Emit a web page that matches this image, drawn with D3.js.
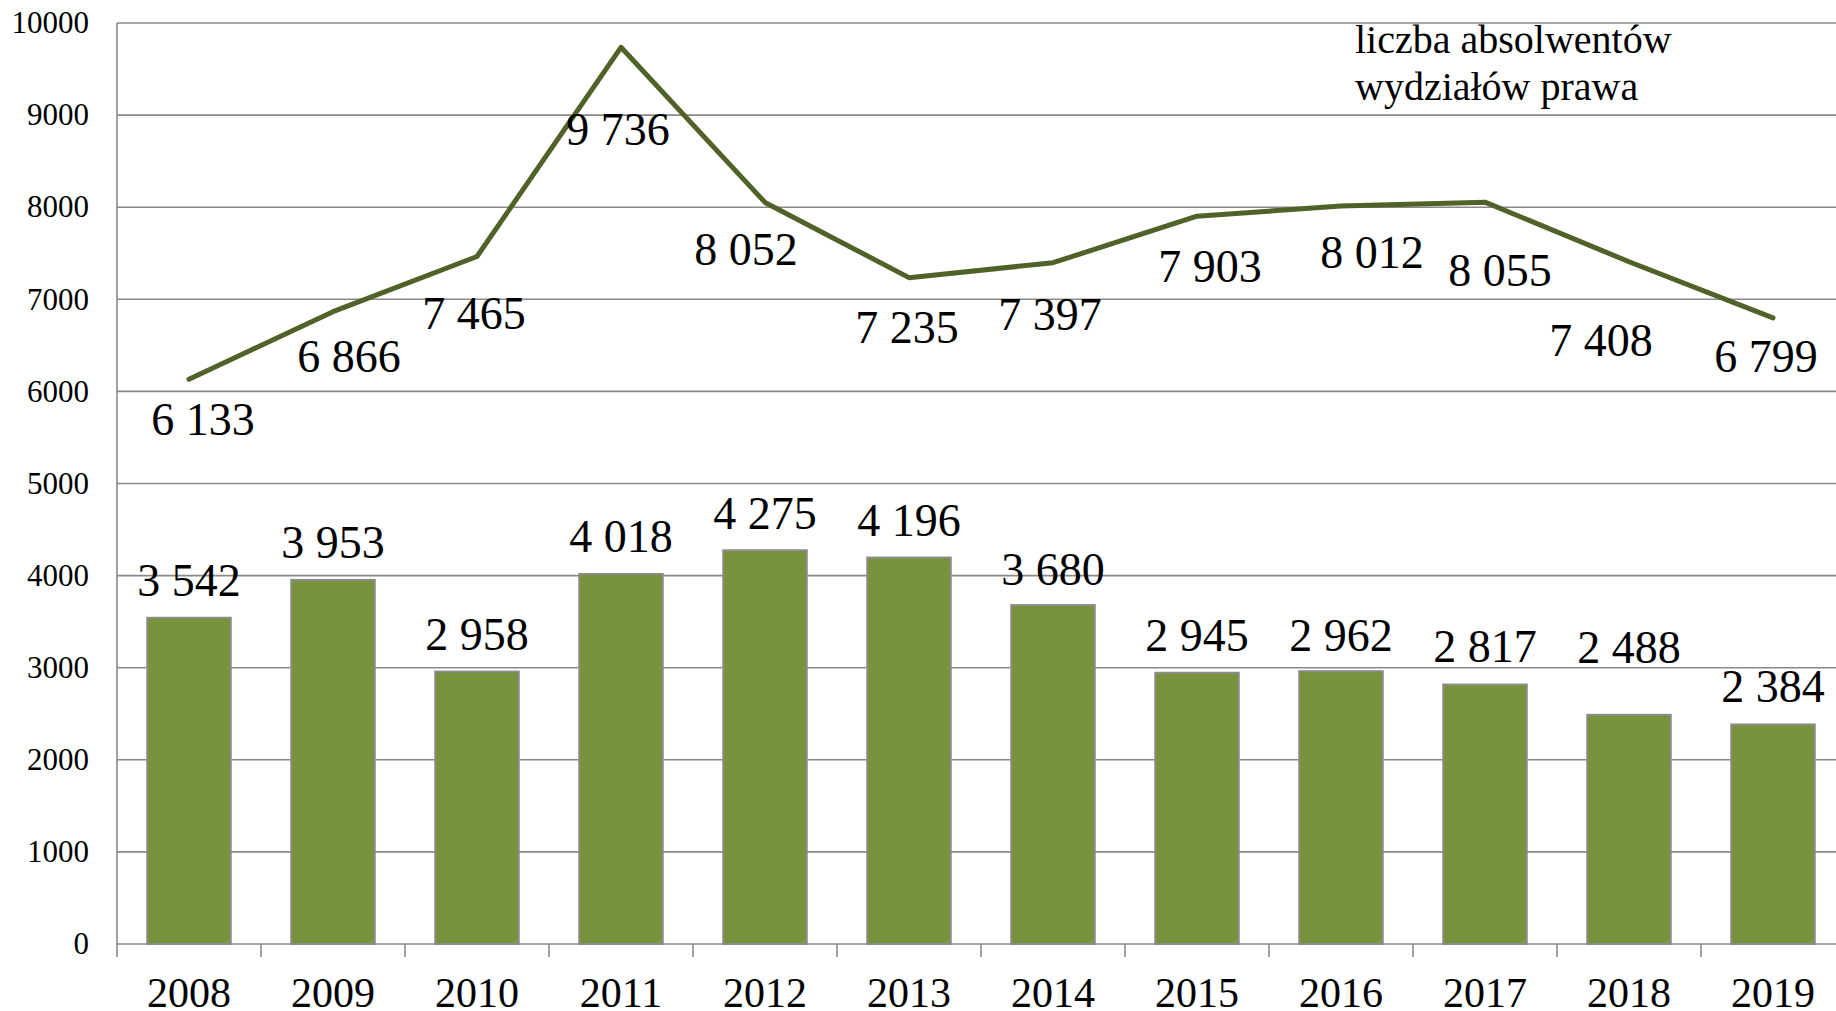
<!DOCTYPE html>
<meta charset="utf-8">
<title>Absolwenci prawa</title>
<style>
    body {
        margin: 0;
        background: #fff;
    }

    text {
        font-family: "Liberation Serif", "Times New Roman", serif;
        fill: #000;
    }
</style>
<body>
<script src="https://cdnjs.cloudflare.com/ajax/libs/d3/7.8.5/d3.min.js"></script>
<script>
    var years = ["2008", "2009", "2010", "2011", "2012", "2013", "2014", "2015", "2016", "2017", "2018", "2019"];
    var barValues = [3542, 3953, 2958, 4018, 4275, 4196, 3680, 2945, 2962, 2817, 2488, 2384];
    var lineValues = [6133, 6866, 7465, 9736, 8052, 7235, 7397, 7903, 8012, 8055, 7408, 6799];
    var yTicks = [0, 1000, 2000, 3000, 4000, 5000, 6000, 7000, 8000, 9000, 10000];
    var legendLines = ["liczba absolwentów", "wydziałów prawa"];

    var W = 1836, H = 1011;
    var plotLeft = 117, plotTop = 23, plotBottom = 944;
    var plotRight = plotLeft + 144 * years.length; // runs past the right edge, as in the original

    // hand-placed label nudges (dx, dy) like in the source chart
    var lineLabelNudge = [[14, 56], [16, 60], [-3, 73], [-3, 98], [-19, 63], [-2, 65],
        [-3, 67], [13, 66], [31, 62], [15, 84], [-28, 94], [-7, 54]];
    var barLabelLift = [22, 22, 22, 22, 21, 22, 20, 22, 20, 23, 52, 22];

    var fmt = function (v) {
        return d3.format(",")(v).replace(",", " ");
    };

    var svg = d3.select("body").append("svg")
        .attr("width", W)
        .attr("height", H);

    var x = d3.scaleBand()
        .domain(years)
        .range([plotLeft, plotRight])
        .paddingInner(0.42)
        .paddingOuter(0.21);

    var y = d3.scaleLinear()
        .domain([0, 10000])
        .range([plotBottom, plotTop]);

    var step = x.step();
    var cx = function (d) {
        return x(d) + x.bandwidth() / 2;
    };

    // grid
    svg.append("g").selectAll("line")
        .data(yTicks)
        .enter()
        .append("line")
        .attr("x1", plotLeft)
        .attr("x2", plotRight)
        .attr("y1", function (d) { return y(d); })
        .attr("y2", function (d) { return y(d); })
        .attr("stroke", "#8a8a8a")
        .attr("stroke-width", 1.6);

    // y labels
    svg.append("g").selectAll("text")
        .data(yTicks)
        .enter()
        .append("text")
        .attr("x", 89)
        .attr("y", function (d) { return y(d); })
        .attr("dy", "0.33em")
        .attr("text-anchor", "end")
        .attr("font-size", 31)
        .text(function (d) { return d; });

    // bars
    svg.append("g").selectAll("rect")
        .data(barValues)
        .enter()
        .append("rect")
        .attr("x", function (d, i) { return x(years[i]); })
        .attr("y", function (d) { return y(d); })
        .attr("width", x.bandwidth())
        .attr("height", function (d) { return plotBottom - y(d); })
        .attr("fill", "#77933c")
        .attr("stroke", "#8c8c8c")
        .attr("stroke-width", 2);

    // axis lines and ticks
    svg.append("line")
        .attr("x1", plotLeft).attr("x2", plotLeft)
        .attr("y1", plotTop).attr("y2", plotBottom)
        .attr("stroke", "#8a8a8a")
        .attr("stroke-width", 1.6);

    svg.append("g").selectAll("line")
        .data(d3.range(years.length + 1))
        .enter()
        .append("line")
        .attr("x1", function (i) { return plotLeft + i * step; })
        .attr("x2", function (i) { return plotLeft + i * step; })
        .attr("y1", plotBottom)
        .attr("y2", plotBottom + 13)
        .attr("stroke", "#8a8a8a")
        .attr("stroke-width", 1.6);

    svg.append("g").selectAll("text")
        .data(years)
        .enter()
        .append("text")
        .attr("x", cx)
        .attr("y", 1007)
        .attr("text-anchor", "middle")
        .attr("font-size", 42)
        .text(function (d) { return d; });

    // bar labels
    svg.append("g").selectAll("text")
        .data(barValues)
        .enter()
        .append("text")
        .attr("x", function (d, i) { return cx(years[i]); })
        .attr("y", function (d, i) { return y(d) - barLabelLift[i]; })
        .attr("text-anchor", "middle")
        .attr("font-size", 46)
        .text(fmt);

    // line
    var line = d3.line()
        .x(function (d, i) { return cx(years[i]); })
        .y(function (d) { return y(d); });

    svg.append("path")
        .datum(lineValues)
        .attr("d", line)
        .attr("fill", "none")
        .attr("stroke", "#4f6228")
        .attr("stroke-width", 5)
        .attr("stroke-linejoin", "round")
        .attr("stroke-linecap", "round");

    svg.append("g").selectAll("text")
        .data(lineValues)
        .enter()
        .append("text")
        .attr("x", function (d, i) { return cx(years[i]) + lineLabelNudge[i][0]; })
        .attr("y", function (d, i) { return y(d) + lineLabelNudge[i][1]; })
        .attr("text-anchor", "middle")
        .attr("font-size", 46)
        .text(fmt);

    // legend text
    svg.append("g").selectAll("text")
        .data(legendLines)
        .enter()
        .append("text")
        .attr("x", 1355)
        .attr("y", function (d, i) { return 53 + i * 47; })
        .attr("font-size", 40)
        .text(function (d) { return d; });
</script>
